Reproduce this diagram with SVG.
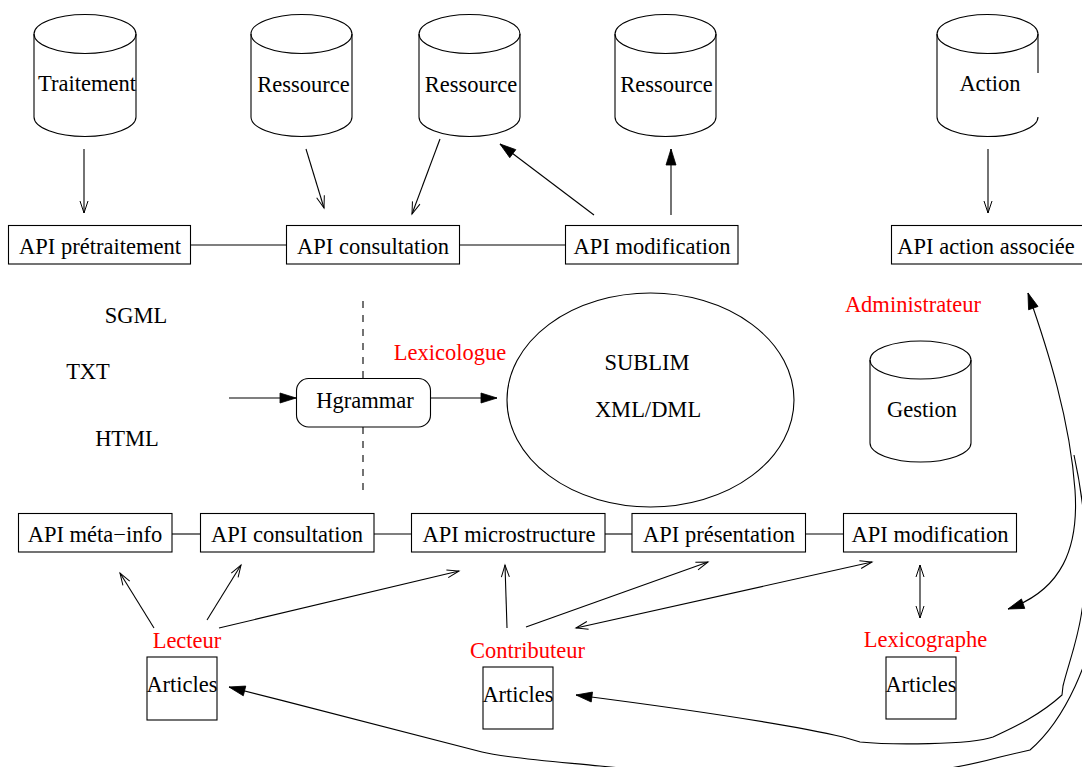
<svg xmlns="http://www.w3.org/2000/svg" width="1082" height="767" viewBox="0 0 1082 767">
<style>
text{font-family:"Liberation Serif","Times New Roman",serif;font-size:22.5px;fill:#000;text-anchor:middle}
.red{fill:#ff0000}
.s{stroke:#000;stroke-width:1.1;fill:none}
.box{stroke:#000;stroke-width:1.1;fill:#fff}
.oa{marker-end:url(#oa)}
.fa{marker-end:url(#fa)}
.dd{marker-start:url(#oa);marker-end:url(#oa)}
.ff{marker-start:url(#fa);marker-end:url(#fa)}
</style>
<defs>
<marker id="oa" markerUnits="userSpaceOnUse" markerWidth="14" markerHeight="10" refX="12" refY="4.5" orient="auto-start-reverse" overflow="visible">
<path d="M0,0.5 L12,4.5 L0,8.5" fill="none" stroke="#000" stroke-width="1"/>
</marker>
<marker id="fa" markerUnits="userSpaceOnUse" markerWidth="17" markerHeight="11" refX="16" refY="5" orient="auto-start-reverse" overflow="visible">
<path d="M0,0 L16,5 L0,10 z" fill="#000" stroke="#000" stroke-width="0.8"/>
</marker>
</defs>
<rect width="1082" height="767" fill="#fff"/>

<g id="connectors">
<line class="s oa" x1="84" y1="149" x2="84" y2="213"/>
<line class="s oa" x1="306" y1="149" x2="324" y2="208"/>
<line class="s oa" x1="440" y1="139" x2="412" y2="214"/>
<line class="s fa" x1="594" y1="215" x2="500" y2="144"/>
<line class="s fa" x1="671" y1="215" x2="671" y2="149"/>
<line class="s oa" x1="988" y1="149" x2="988" y2="213"/>
<line class="s" x1="190" y1="245" x2="287" y2="245"/>
<line class="s" x1="460" y1="245" x2="565" y2="245"/>
<line class="s" x1="363" y1="301" x2="363" y2="497" stroke-dasharray="7,7"/>
<line class="s fa" x1="229" y1="398" x2="296" y2="398"/>
<line class="s fa" x1="430" y1="398" x2="497" y2="398"/>
<line class="s" x1="172" y1="534" x2="201" y2="534"/>
<line class="s" x1="374" y1="534" x2="412" y2="534"/>
<line class="s" x1="605" y1="534" x2="632" y2="534"/>
<line class="s" x1="806" y1="534" x2="843" y2="534"/>
<line class="s oa" x1="154" y1="628" x2="120" y2="573"/>
<line class="s oa" x1="207" y1="620" x2="241" y2="565"/>
<line class="s oa" x1="219" y1="628" x2="459" y2="571"/>
<line class="s oa" x1="507" y1="628" x2="505" y2="565"/>
<line class="s oa" x1="526" y1="627" x2="708" y2="562"/>
<line class="s dd" x1="576" y1="628" x2="872" y2="562"/>
<line class="s dd" x1="920" y1="565" x2="920" y2="618"/>
<path class="s ff" d="M1028,293 C1048,350 1070,420 1075,490 C1079,548 1062,590 1008,609"/>
<path class="s fa" d="M1074,455 C1086,510 1090,570 1082,610 C1078,640 1068,665 1063,686 L1062,695 C1040,715 1015,727 993,737 C970,745 890,745 860,742 L843,737 C800,727 700,711 576,695"/>
<path class="s fa" d="M1100,600 C1092,660 1065,720 1030,750 L1000,757 C960,768 900,780 780,778 C700,776 640,770 600,766 C560,762 505,758 482,752 C420,736 320,710 229,687"/>
</g>

<g id="cyl-traitement">
<ellipse class="s" cx="85" cy="34" rx="51" ry="19.5"/>
<path class="s" d="M34,34 L34,117 A51,19.5 0 0 0 136,117 L136,34"/>
<text x="87" y="91">Traitement</text>
</g>
<g id="cyl-ressource1">
<ellipse class="s" cx="301.5" cy="34" rx="50.5" ry="19.5"/>
<path class="s" d="M251,34 L251,117 A50.5,19.5 0 0 0 352,117 L352,34"/>
<text x="303.5" y="92">Ressource</text>
</g>
<g id="cyl-ressource2">
<ellipse class="s" cx="469.5" cy="34" rx="50.5" ry="19.5"/>
<path class="s" d="M419,34 L419,117 A50.5,19.5 0 0 0 520,117 L520,34"/>
<text x="471" y="92">Ressource</text>
</g>
<g id="cyl-ressource3">
<ellipse class="s" cx="665.5" cy="34" rx="50.5" ry="19.5"/>
<path class="s" d="M615,34 L615,117 A50.5,19.5 0 0 0 716,117 L716,34"/>
<text x="666.5" y="92">Ressource</text>
</g>
<g id="cyl-action">
<ellipse class="s" cx="987.5" cy="34" rx="50.5" ry="19.5"/>
<path class="s" d="M1038,34 L1038,73 M937,34 L937,117 A50.5,19.5 0 0 0 1038,117"/>
<text x="990" y="91">Action</text>
</g>

<g id="api-pretraitement"><rect class="box" x="8.5" y="225.5" width="182" height="38.5"/><text x="100" y="254">API prétraitement</text></g>
<g id="api-consultation-top"><rect class="box" x="286.5" y="225.5" width="173" height="38.5"/><text x="373" y="254">API consultation</text></g>
<g id="api-modification-top"><rect class="box" x="565.5" y="225.5" width="172.5" height="38.5"/><text x="652" y="254">API modification</text></g>
<g id="api-action"><rect class="box" x="891.5" y="225.5" width="195" height="38.5"/><text x="986" y="254">API action associée</text></g>

<g id="formats">
<text x="136" y="323">SGML</text>
<text x="88" y="379">TXT</text>
<text x="127" y="446">HTML</text>
</g>
<g id="lexicologue"><text class="red" x="450" y="360">Lexicologue</text></g>
<g id="hgrammar"><rect class="box" x="296.5" y="378.5" width="134" height="48.5" rx="12"/><text x="365" y="408">Hgrammar</text></g>
<g id="sublim"><ellipse class="s" cx="650.5" cy="400" rx="143.5" ry="107"/><text x="647" y="370">SUBLIM</text><text x="648" y="417">XML/DML</text></g>
<g id="administrateur"><text class="red" x="913" y="312">Administrateur</text></g>
<g id="cyl-gestion">
<ellipse class="s" cx="920.5" cy="360" rx="50.5" ry="19"/>
<path class="s" d="M870,360 L870,443 A50.5,19 0 0 0 971,443 L971,360"/>
<text x="922" y="417">Gestion</text>
</g>

<g id="api-meta"><rect class="box" x="18.5" y="513.5" width="153.5" height="38.5"/><text x="95" y="542">API méta−info</text></g>
<g id="api-consultation-bottom"><rect class="box" x="200.5" y="513.5" width="173.5" height="38.5"/><text x="287" y="542">API consultation</text></g>
<g id="api-microstructure"><rect class="box" x="411.5" y="513.5" width="193.5" height="38.5"/><text x="509" y="542">API microstructure</text></g>
<g id="api-presentation"><rect class="box" x="632" y="513.5" width="173.5" height="38.5"/><text x="719" y="542">API présentation</text></g>
<g id="api-modification-bottom"><rect class="box" x="843.5" y="513.5" width="173" height="38.5"/><text x="930" y="542">API modification</text></g>

<g id="lecteur"><text class="red" x="187" y="648">Lecteur</text><rect class="s" x="147" y="657" width="70" height="63"/><text x="182" y="692">Articles</text></g>
<g id="contributeur"><text class="red" x="527.5" y="658">Contributeur</text><rect class="s" x="483" y="667" width="70" height="62"/><text x="518" y="702">Articles</text></g>
<g id="lexicographe"><text class="red" x="925.5" y="647">Lexicographe</text><rect class="s" x="886" y="657" width="70" height="62"/><text x="921" y="692">Articles</text></g>
</svg>
